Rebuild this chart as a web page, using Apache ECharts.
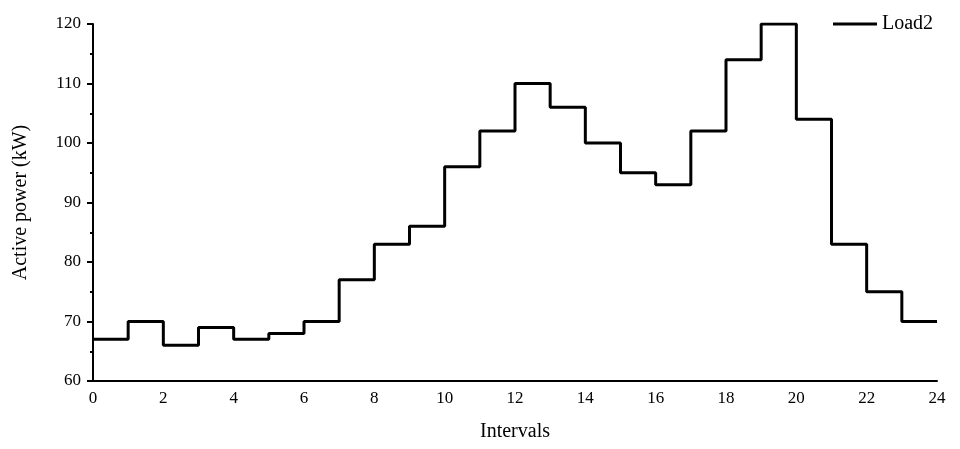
<!DOCTYPE html>
<html>
<head>
<meta charset="utf-8">
<script src="https://cdn.jsdelivr.net/npm/echarts@6/dist/echarts.min.js"></script>
<style>html,body{margin:0;padding:0;background:#fff;}#c{width:960px;height:449px;}</style>
</head>
<body>
<div id="c"></div>
<script>
var seriesName = 'Load2';
var intervals = [0,1,2,3,4,5,6,7,8,9,10,11,12,13,14,15,16,17,18,19,20,21,22,23,24];
var loadValues = [67,70,66,69,67,68,70,77,83,86,96,102,110,106,100,95,93,102,114,120,104,83,75,70,70];
var xTicks = [0,2,4,6,8,10,12,14,16,18,20,22,24];
var yTicks = [60,70,80,90,100,110,120];

var data = intervals.map(function (x, i) { return [x, loadValues[i]]; });
var font = 'Liberation Serif';
var chart = echarts.init(document.getElementById('c'));
chart.setOption({
  animation: false,
  backgroundColor: '#fff',
  grid: { left: 93, right: 23, top: 24, bottom: 68 },
  legend: {
    data: [{ name: seriesName, icon: 'rect' }], left: 828, top: 9, itemWidth: 44, itemHeight: 3, itemGap: 7,
    itemStyle: { color: '#000' },
    textStyle: { fontFamily: font, fontSize: 20, color: '#000' }
  },
  xAxis: {
    type: 'value', min: xTicks[0], max: xTicks[xTicks.length - 1], interval: 2,
    name: 'Intervals', nameLocation: 'middle', nameGap: 41,
    nameTextStyle: { fontFamily: font, fontSize: 20, color: '#000' },
    axisLine: { lineStyle: { color: '#000', width: 2 } },
    axisTick: { show: false },
    splitLine: { show: false },
    axisLabel: { fontFamily: font, fontSize: 17, color: '#000', margin: 9 }
  },
  yAxis: {
    type: 'value', min: yTicks[0], max: yTicks[yTicks.length - 1], interval: 10,
    name: 'Active power (kW)', nameLocation: 'middle', nameGap: 62,
    nameTextStyle: { fontFamily: font, fontSize: 20, color: '#000' },
    axisLine: { show: true, lineStyle: { color: '#000', width: 2 } },
    axisTick: { show: true, inside: false, length: 6, lineStyle: { color: '#000', width: 2 } },
    minorTick: { show: true, splitNumber: 2, length: 3, lineStyle: { color: '#000', width: 2 } },
    splitLine: { show: false },
    axisLabel: { fontFamily: font, fontSize: 17, color: '#000', margin: 12 }
  },
  series: [{
    name: seriesName, type: 'line', step: 'end', data: data,
    symbol: 'none', lineStyle: { color: '#000', width: 3 }, itemStyle: { color: '#000' }
  }]
});
</script>
</body>
</html>
